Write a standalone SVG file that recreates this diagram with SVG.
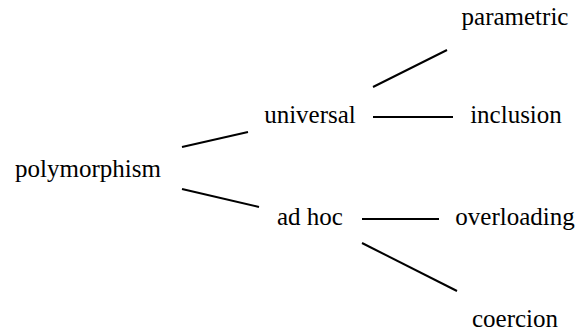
<svg xmlns="http://www.w3.org/2000/svg" width="578" height="335" viewBox="0 0 578 335">
<style>
text{font-family:"Liberation Serif","Times New Roman",serif;font-size:25px;fill:#000;text-anchor:middle}
line{stroke:#000;stroke-width:2}
</style>
<rect width="578" height="335" fill="#fff"/>
<g id="connectors">
<line x1="182" y1="147" x2="248" y2="132"/>
<line x1="182" y1="189" x2="259" y2="207"/>
<line x1="373" y1="87" x2="447" y2="50"/>
<line x1="373" y1="117" x2="453" y2="117"/>
<line x1="362" y1="219" x2="439" y2="219"/>
<line x1="362" y1="243" x2="457" y2="291"/>
</g>
<g id="polymorphism"><text x="88" y="177">polymorphism</text></g>
<g id="universal"><text x="310" y="123">universal</text></g>
<g id="adhoc"><text x="310" y="225">ad hoc</text></g>
<g id="parametric"><text x="515" y="25">parametric</text></g>
<g id="inclusion"><text x="516" y="123">inclusion</text></g>
<g id="overloading"><text x="515" y="225">overloading</text></g>
<g id="coercion"><text x="515" y="327">coercion</text></g>
</svg>
